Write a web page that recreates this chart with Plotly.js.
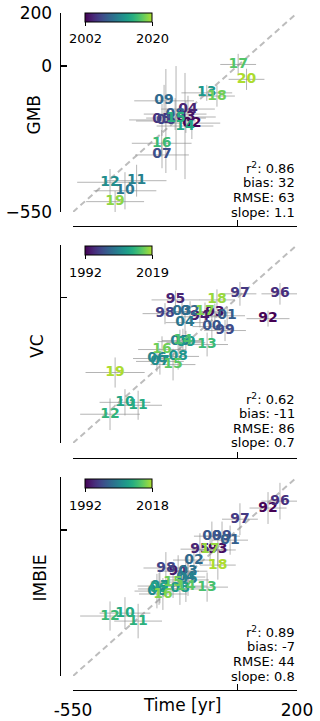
<!DOCTYPE html>
<html>
<head>
<meta charset="utf-8">
<script src="https://cdn.plot.ly/plotly-3.0.1.min.js"></script>
<style>
  html, body { margin: 0; padding: 0; background: #fff; }
  #chart { width: 320px; height: 721px; }
</style>
</head>
<body>
<div id="chart"></div>
<script>
// GMB panel (2002-2020)
const gmbYears = [2002, 2003, 2004, 2005, 2006, 2007, 2008, 2009, 2010, 2011, 2012, 2013, 2014, 2015, 2016, 2017, 2018, 2019, 2020];
const gmbX = [-152, -172, -165, -252, -239, -252, -208, -245, -376, -337, -426, -102, -175, -205, -253, 3, -68, -409, 31];
const gmbY = [-215, -192, -162, -203, -207, -335, -181, -131, -470, -432, -438, -101, -226, -196, -291, 6, -113, -511, -50];
const gmbErrX = [95, 100, 90, 110, 100, 90, 105, 100, 105, 100, 110, 85, 95, 100, 100, 60, 60, 97, 60];
const gmbErrY = [60, 60, 50, 60, 196, 50, 60, 60, 70, 60, 50, 30, 200, 196, 50, 40, 40, 40, 40];
const gmbStats = ['r<sup>2</sup>: 0.86', 'bias: 32', 'RMSE: 63', 'slope: 1.1'];

// VC panel (1992-2019)
const vcYears = [1992, 1993, 1994, 1995, 1996, 1997, 1998, 1999, 2000, 2001, 2002, 2003, 2004, 2005, 2006, 2007, 2008, 2009, 2010, 2011, 2012, 2013, 2014, 2015, 2016, 2017, 2018, 2019];
const vcX = [103, -75, -125, -207, 143, 9, -242, -41, -85, -34, -158, -185, -175, -192, -269, -259, -198, -172, -376, -332, -426, -101, -182, -215, -252, -108, -68, -409];
const vcY = [-79, -57, -72, -8, 15, 15, -60, -124, -109, -68, -53, -53, -94, -166, -230, -241, -222, -170, -396, -407, -441, -177, -162, -253, -196, -53, -8, -283];
const vcErrX = [72, 60, 70, 80, 62, 55, 75, 70, 65, 60, 70, 70, 65, 75, 80, 80, 70, 65, 85, 80, 100, 70, 70, 75, 80, 60, 60, 99];
const vcErrY = [30, 35, 40, 35, 41, 45, 40, 40, 45, 35, 40, 40, 45, 45, 50, 50, 50, 45, 50, 55, 60, 45, 45, 60, 50, 35, 40, 57];
const vcStats = ['r<sup>2</sup>: 0.62', 'bias: -11', 'RMSE: 86', 'slope: 0.7'];

// IMBIE panel (1992-2018)
const imYears = [1992, 1993, 1994, 1995, 1996, 1997, 1998, 1999, 2000, 2001, 2002, 2003, 2004, 2005, 2006, 2007, 2008, 2009, 2010, 2011, 2012, 2013, 2014, 2015, 2016, 2017, 2018];
const imX = [103, -65, -198, -125, 143, 9, -239, -51, -85, -24, -145, -165, -172, -165, -269, -259, -192, -262, -376, -332, -426, -101, -172, -215, -249, -91, -65];
const imY = [83, -75, -155, -72, 109, 41, -143, -23, -23, -38, -113, -155, -177, -188, -230, -211, -222, -222, -313, -343, -324, -215, -211, -196, -241, -75, -132];
const imErrX = [62, 60, 70, 65, 62, 60, 75, 60, 60, 60, 70, 65, 65, 70, 75, 75, 70, 70, 85, 80, 100, 70, 70, 75, 80, 60, 60];
const imErrY = [60, 60, 60, 60, 69, 60, 60, 55, 55, 55, 60, 60, 60, 60, 65, 65, 60, 60, 60, 65, 55, 55, 60, 60, 60, 55, 55];
const imStats = ['r<sup>2</sup>: 0.89', 'bias: -7', 'RMSE: 44', 'slope: 0.8'];

const axisRange = [-550, 200];
const axisTicks = [-550, 0, 200];

const W = 320, H = 721;
const FONT = 'DejaVu Sans';

// viridis, cut off before the yellow end
const VIRIDIS = ['#440154', '#48186a', '#472d7b', '#424086', '#3b528b', '#33638d', '#2c728e',
  '#26828e', '#21918c', '#1fa088', '#28ae80', '#3fbc73', '#5ec962', '#84d44b', '#addc30'];
const colorscale = VIRIDIS.map((c, i) => [i / (VIRIDIS.length - 1), c]);

function hexToRgb(h) {
    return [1, 3, 5].map(i => parseInt(h.slice(i, i + 2), 16));
}
function cmap(t) {
    t = Math.max(0, Math.min(1, t));
    const s = t * (VIRIDIS.length - 1);
    const i = Math.min(Math.floor(s), VIRIDIS.length - 2);
    const f = s - i;
    const a = hexToRgb(VIRIDIS[i]), b = hexToRgb(VIRIDIS[i + 1]);
    const c = a.map((v, k) => Math.round(v + (b[k] - v) * f));
    return `rgb(${c[0]},${c[1]},${c[2]})`;
}

// pixel layout of the three panels
const panels = [
    { name: 'GMB', years: gmbYears, x: gmbX, y: gmbY, ex: gmbErrX, ey: gmbErrY, stats: gmbStats,
      top: 13, bottom: 212, xline: 226, cbTop: 13, labelX: 33, yLabels: true, xLabels: false },
    { name: 'VC', years: vcYears, x: vcX, y: vcY, ex: vcErrX, ey: vcErrY, stats: vcStats,
      top: 245, bottom: 443, xline: 458, cbTop: 246, labelX: 37, yLabels: false, xLabels: false },
    { name: 'IMBIE', years: imYears, x: imX, y: imY, ex: imErrX, ey: imErrY, stats: imStats,
      top: 477, bottom: 676, xline: 690, cbTop: 479, labelX: 39, yLabels: false, xLabels: true }
];

const plotLeft = 73, plotRight = 297, yLineX = 59.5;
const cbLeft = 85, cbLen = 67;
const py = p => 1 - p / H;
const px = p => p / W;

const traces = [];
const layout = {
    width: W, height: H,
    margin: { l: 0, r: 0, t: 0, b: 0 },
    paper_bgcolor: '#fff', plot_bgcolor: '#fff',
    showlegend: false,
    font: { family: FONT, color: '#000' },
    annotations: []
};

panels.forEach((p, idx) => {
    const n = idx + 1;
    const xa = n === 1 ? 'x' : 'x' + n;
    const ya = n === 1 ? 'y' : 'y' + n;
    const minY = p.years[0], maxY = p.years[p.years.length - 1];

    // 1:1 line
    traces.push({
        x: axisRange, y: axisRange, xaxis: xa, yaxis: ya,
        mode: 'lines', hoverinfo: 'skip',
        line: { color: '#bdbdbd', width: 2, dash: '6px,4px' }
    });

    traces.push({
        x: p.x, y: p.y, xaxis: xa, yaxis: ya,
        mode: 'markers+text',
        text: p.years.map(v => String(v).slice(2)),
        textposition: 'middle center',
        textfont: { family: FONT, size: 14, weight: 'bold', color: p.years.map(v => cmap((v - minY) / (maxY - minY))) },
        error_x: { type: 'data', array: p.ex, visible: true, color: 'rgba(140,140,140,0.65)', thickness: 1, width: 0 },
        error_y: { type: 'data', array: p.ey, visible: true, color: 'rgba(140,140,140,0.65)', thickness: 1, width: 0 },
        marker: {
            size: 1, opacity: 0,
            color: p.years, colorscale: colorscale, cmin: minY, cmax: maxY, showscale: true,
            colorbar: {
                orientation: 'h',
                x: px(cbLeft), xanchor: 'left',
                y: py(p.cbTop), yanchor: 'top',
                len: cbLen, lenmode: 'pixels',
                thickness: 9, thicknessmode: 'pixels',
                xpad: 0, ypad: 0,
                outlinewidth: 1, outlinecolor: '#000',
                tickvals: [minY, maxY],
                ticks: 'outside', ticklen: 4, tickcolor: '#000',
                showticklabels: false
            }
        },
        hoverinfo: 'skip'
    });

    // colorbar end labels, set a little lower than plotly would put them
    [[minY, cbLeft], [maxY, cbLeft + cbLen]].forEach(([v, xpos]) => {
        layout.annotations.push({
            xref: 'paper', yref: 'paper', x: px(xpos), y: py(p.cbTop + 26),
            text: String(v), showarrow: false, xanchor: 'center', yanchor: 'middle',
            font: { family: FONT, size: 13, color: '#000' }
        });
    });

    layout['xaxis' + (n === 1 ? '' : n)] = {
        domain: [px(plotLeft), px(plotRight)],
        range: axisRange, anchor: 'free', position: py(p.xline),
        showgrid: false, zeroline: false,
        showline: true, linecolor: '#000', linewidth: 1.2,
        ticks: 'inside', ticklen: 6, tickwidth: 1.2, tickcolor: '#000',
        tickvals: axisTicks,
        ticktext: ['-550', '', '200'],
        showticklabels: p.xLabels,
        ticklabelstandoff: 4,
        tickfont: { family: FONT, size: 17, color: '#000' }
    };
    layout['yaxis' + (n === 1 ? '' : n)] = {
        domain: [py(p.bottom), py(p.top)],
        range: axisRange, anchor: 'free', position: px(yLineX),
        showgrid: false, zeroline: false,
        showline: true, linecolor: '#000', linewidth: 1.2,
        ticks: 'inside', ticklen: 6, tickwidth: 1.2, tickcolor: '#000',
        tickvals: axisTicks,
        ticktext: ['\u2212550', '0', '200'],
        showticklabels: p.yLabels,
        ticklabelstandoff: 4,
        tickfont: { family: FONT, size: 17, color: '#000' }
    };

    // y axis label
    layout.annotations.push({
        xref: 'paper', yref: 'paper', x: px(p.labelX), y: py((p.top + p.bottom) / 2 + 2),
        text: p.name, showarrow: false, textangle: -90,
        xanchor: 'center', yanchor: 'middle',
        font: { family: FONT, size: 17, color: '#000' }
    });

    // stats block, bottom right
    p.stats.forEach((s, k) => {
        layout.annotations.push({
            xref: 'paper', yref: 'paper', x: px(plotRight), y: py(p.bottom - (3 - k) * 14.7),
            text: s, showarrow: false, xanchor: 'right', yanchor: 'middle',
            font: { family: FONT, size: 13, color: '#000' }
        });
    });
});

layout.annotations.push({
    xref: 'paper', yref: 'paper', x: px(182), y: py(705),
    text: 'Time [yr]', showarrow: false, xanchor: 'center', yanchor: 'middle',
    font: { family: FONT, size: 17, color: '#000' }
});

Plotly.newPlot('chart', traces, layout, { displayModeBar: false, staticPlot: true });
</script>
</body>
</html>
